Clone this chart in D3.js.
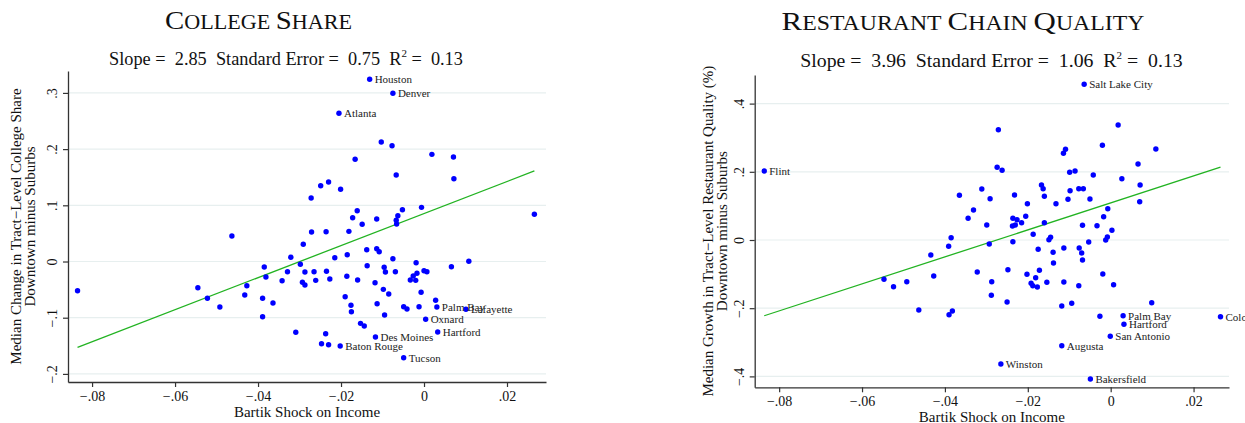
<!DOCTYPE html>
<html><head><meta charset="utf-8">
<script src="https://cdn.jsdelivr.net/npm/d3@7"></script>
<style>
html,body{margin:0;padding:0;background:#fff;}
text{font-family:"Liberation Serif","Times New Roman",serif;}
</style></head>
<body><svg id="chart" width="1245" height="423"></svg>
<script>
// ---------- DATA ----------
const xTickValues = [-0.08, -0.06, -0.04, -0.02, 0, 0.02];
const xTickLabels = ["\u2212.08", "\u2212.06", "\u2212.04", "\u2212.02", "0", ".02"];
const collegeYTickValues = [-0.2, -0.1, 0, 0.1, 0.2, 0.3];
const collegeYTickLabels = ["\u2212.2", "\u2212.1", "0", ".1", ".2", ".3"];
const restYTickValues = [-0.4, -0.2, 0, 0.2, 0.4];
const restYTickLabels = ["\u2212.4", "\u2212.2", "0", ".2", ".4"];

const collegeX = [-0.0103,-0.0077,0.0019,0.0071,-0.0166,-0.0067,0.0072,-0.0230,-0.0249,-0.0201,
 -0.0272,-0.0006,-0.0052,-0.0161,-0.0063,-0.0172,-0.0114,-0.0067,-0.0149,-0.0066,
 -0.0463,-0.0271,-0.0236,-0.0181,-0.0291,-0.0321,-0.0215,-0.0185,-0.0138,-0.0114,
 -0.0108,-0.0075,-0.0019,0.0066,0.0108,-0.0298,-0.0385,-0.0381,-0.0329,-0.0287,
 -0.0265,-0.0235,-0.0137,-0.0096,-0.0093,-0.0069,-0.0017,-0.0026,0.0000,0.0007,
 -0.0033,-0.0020,-0.0342,-0.0293,-0.0287,-0.0261,-0.0227,-0.0186,-0.0160,-0.0118,
 -0.0098,-0.0085,-0.0007,-0.0427,-0.0545,-0.0522,-0.0432,-0.0492,-0.0389,-0.0364,
 -0.0389,-0.0190,-0.0176,-0.0175,-0.0113,-0.0095,-0.0049,-0.0041,-0.0012,0.0028,
 0.0031,0.0101,0.0004,-0.0153,-0.0144,0.0033,-0.0117,-0.0202,-0.0049,-0.0309,
 -0.0237,-0.0247,-0.0230,-0.0835,-0.0131,-0.0075,-0.0205,0.0266];
const collegeY = [0.2126,0.2060,0.1907,0.1859,0.1819,0.1539,0.1473,0.1415,0.1349,0.1285,
 0.1130,0.0964,0.0922,0.0904,0.0815,0.0779,0.0756,0.0733,0.0662,0.0667,
 0.0454,0.0525,0.0530,0.0537,0.0306,0.0075,0.0068,0.0121,0.0210,0.0228,
 0.0174,0.0050,-0.0021,-0.0093,0.0004,-0.0050,-0.0098,-0.0276,-0.0181,-0.0187,
 -0.0181,-0.0174,-0.0075,-0.0103,-0.0187,-0.0181,-0.0210,-0.0258,-0.0164,-0.0181,
 -0.0329,-0.0335,-0.0342,-0.0370,-0.0418,-0.0335,-0.0311,-0.0263,-0.0329,-0.0377,
 -0.0495,-0.0578,-0.0548,-0.0431,-0.0466,-0.0655,-0.0596,-0.0810,-0.0655,-0.0738,
 -0.0982,-0.0626,-0.0779,-0.0893,-0.0751,-0.0952,-0.0804,-0.0845,-0.0804,-0.0690,
 -0.0810,-0.0850,-0.1028,-0.1100,-0.1148,-0.1254,-0.1343,-0.1504,-0.1712,-0.1260,
 -0.1285,-0.1463,-0.1480,-0.0520,0.3242,0.2993,0.2637,0.0840];
const collegeNames = {80:"Palm Bay",81:"Lafayette",82:"Oxnard",85:"Hartford",86:"Des Moines",
 87:"Baton Rouge",88:"Tucson",94:"Houston",95:"Denver",96:"Atlanta"};
const collegeFit = {slope: 2.85, intercept: 0.0853};

const restX = [-0.0271,0.0018,-0.0020,-0.0109,-0.0114,0.0066,-0.0274,-0.0262,-0.0099,-0.0086,
 -0.0042,0.0027,0.0071,-0.0167,-0.0163,-0.0311,-0.0077,-0.0066,-0.0098,-0.0365,
 -0.0232,-0.0160,-0.0291,-0.0103,-0.0050,-0.0201,-0.0132,0.0070,-0.0007,-0.0331,
 -0.0344,-0.0236,-0.0226,-0.0205,-0.0215,-0.0237,-0.0230,-0.0160,-0.0017,-0.0299,
 -0.0068,-0.0033,0.0003,-0.0385,-0.0187,-0.0145,-0.0149,-0.0008,-0.0012,-0.0391,
 -0.0293,-0.0236,-0.0053,-0.0175,-0.0113,-0.0076,-0.0139,-0.0070,-0.0434,-0.0068,
 -0.0138,-0.0248,-0.0172,-0.0322,-0.0427,-0.0202,-0.0181,-0.0019,-0.0547,-0.0492,
 -0.0287,-0.0192,-0.0188,-0.0177,-0.0154,-0.0113,-0.0077,0.0007,-0.0524,-0.0288,
 -0.0250,-0.0118,-0.0094,-0.0463,-0.0382,-0.0390,-0.0026,0.0030,0.0032,0.0099,
 0.0109,0.0265,-0.0001,-0.0118,-0.0265,-0.0049,-0.0064,-0.0836];
const restY = [0.3235,0.3372,0.2777,0.2660,0.2543,0.2229,0.2132,0.2044,0.1985,0.2023,
 0.1906,0.1798,0.1613,0.1613,0.1504,0.1496,0.1504,0.1504,0.1446,0.1311,
 0.1320,0.1282,0.1211,0.1194,0.1202,0.1065,0.1065,0.1123,0.0918,0.0880,
 0.0636,0.0636,0.0595,0.0695,0.0507,0.0411,0.0440,0.0507,0.0683,0.0440,
 0.0431,0.0419,0.0284,0.0067,0.0167,0.0079,0.0009,0.0088,0.0000,-0.0185,
 -0.0117,-0.0050,-0.0059,-0.0273,-0.0235,-0.0235,-0.0361,-0.0381,-0.0440,-0.0587,
 -0.0674,-0.0871,-0.0889,-0.0938,-0.1056,-0.1006,-0.1106,-0.0997,-0.1152,-0.1223,
 -0.1223,-0.1270,-0.1340,-0.1378,-0.1240,-0.1232,-0.1340,-0.1311,-0.1370,-0.1622,
 -0.1818,-0.1935,-0.1856,-0.2053,-0.2082,-0.2191,-0.2238,-0.2220,-0.2472,-0.1839,
 0.2669,-0.2249,-0.2824,-0.3100,-0.3636,-0.4076,0.4566,0.2023];
const restNames = {87:"Palm Bay",88:"Hartford",91:"Colorado Springs",92:"San Antonio",93:"Augusta",
 94:"Winston",95:"Bakersfield",96:"Salt Lake City",97:"Flint"};
const restFit = {slope: 3.96, intercept: 0.1089};

// ---------- LAYOUT ----------
const svg = d3.select("#chart");
const FONT = '"Liberation Serif","Times New Roman",serif';

const panels = [
 {x: collegeX, y: collegeY, names: collegeNames, fit: collegeFit,
  yTicks: collegeYTickValues, yLabels: collegeYTickLabels,
  plot: {x0: 68, x1: 546, y0: 71, y1: 382},
  xDomain: [-0.0858, 0.0294], yDomain: [-0.2144, 0.339],
  title: "College Share", titleCx: 258.5, titleW: 187, titleY: 29,
  sub: ["2.85", "0.75", "0.13"], subCx: 286, subY: 65, subSize: 18.3,
  yTitle: ["Median Change in Tract\u2212Level College Share", "Downtown minus Suburbs"],
  yTitleX: [21, 35], xTitleY: 417},
 {x: restX, y: restY, names: restNames, fit: restFit,
  yTicks: restYTickValues, yLabels: restYTickLabels,
  plot: {x0: 754.7, x1: 1229, y0: 75, y1: 387.3},
  xDomain: [-0.0859, 0.02855], yDomain: [-0.432, 0.4839],
  title: "Restaurant Chain Quality", titleCx: 963, titleW: 363, titleY: 29.5,
  sub: ["3.96", "1.06", "0.13"], subCx: 991.5, subY: 67, subSize: 19.8,
  yTitle: ["Median Growth in Tract\u2212Level Restaurant Quality (%)", "Downtown minus Suburbs"],
  yTitleX: [713, 727], xTitleY: 421.5}
];

panels.forEach(p => {
  const g = svg.append("g");
  const xs = d3.scaleLinear().domain(p.xDomain).range([p.plot.x0, p.plot.x1]);
  const ys = d3.scaleLinear().domain(p.yDomain).range([p.plot.y1, p.plot.y0]);

  // gridlines
  g.selectAll("line.grid").data(p.yTicks).join("line")
    .attr("x1", p.plot.x0).attr("x2", p.plot.x1)
    .attr("y1", d => ys(d)).attr("y2", d => ys(d))
    .attr("stroke", "#e7efef").attr("stroke-width", 1.2);

  // axes
  const xa = g.append("g").attr("transform", `translate(0,${p.plot.y1})`)
    .call(d3.axisBottom(xs).tickValues(xTickValues).tickFormat((d,i) => xTickLabels[i])
      .tickSize(5).tickSizeOuter(0).tickPadding(4));
  const ya = g.append("g").attr("transform", `translate(${p.plot.x0},0)`)
    .call(d3.axisLeft(ys).tickValues(p.yTicks).tickFormat((d,i) => p.yLabels[i])
      .tickSize(5).tickSizeOuter(0));
  [xa, ya].forEach(a => {
    a.select(".domain").attr("stroke", "#333").attr("stroke-width", 1.3);
    a.selectAll(".tick line").attr("stroke", "#333").attr("stroke-width", 1.2);
    a.selectAll("text").attr("font-family", FONT).attr("font-size", 14).attr("fill", "#111");
  });
  ya.selectAll(".tick text")
    .attr("x", null).attr("dy", null)
    .attr("text-anchor", "middle")
    .attr("transform", "translate(-11,0) rotate(-90)");

  // fit line
  const xmin = d3.min(p.x), xmax = d3.max(p.x);
  g.append("line")
    .attr("x1", xs(xmin)).attr("y1", ys(p.fit.intercept + p.fit.slope * xmin))
    .attr("x2", xs(xmax)).attr("y2", ys(p.fit.intercept + p.fit.slope * xmax))
    .attr("stroke", "#22b322").attr("stroke-width", 1.3);

  // points
  g.selectAll("circle.pt").data(p.x.map((v,i) => [v, p.y[i], i])).join("circle")
    .attr("cx", d => xs(d[0])).attr("cy", d => ys(d[1])).attr("r", 2.7)
    .attr("fill", "#0000ff");

  // labels
  Object.entries(p.names).forEach(([i, name]) => {
    g.append("text").attr("x", xs(p.x[+i]) + 5).attr("y", ys(p.y[+i])).attr("dy", "0.35em")
      .attr("font-size", 11).attr("fill", "#222").text(name);
  });

  // title (small caps)
  const t = g.append("text").attr("text-anchor", "middle").attr("fill", "#111");
  p.title.split(" ").forEach((w, wi) => {
    if (wi > 0) t.append("tspan").attr("font-size", 20).text("\u00a0");
    t.append("tspan").attr("font-size", 26).text(w[0].toUpperCase());
    t.append("tspan").attr("font-size", 20).text(w.slice(1).toUpperCase());
  });
  const tw = t.node().getComputedTextLength();
  t.attr("transform", `translate(${p.titleCx},${p.titleY}) scale(${p.titleW / tw},1)`);

  // subtitle
  const s = g.append("text").attr("text-anchor", "middle").attr("fill", "#111")
    .attr("font-size", p.subSize).attr("x", p.subCx).attr("y", p.subY).style("white-space", "pre");
  s.append("tspan").text(`Slope =  ${p.sub[0]}  Standard Error =  ${p.sub[1]}  R`);
  s.append("tspan").attr("font-size", 11).attr("dy", -8).text("2");
  s.append("tspan").attr("dy", 8).text(` =  ${p.sub[2]}`);

  // y title
  const cy = (p.plot.y0 + p.plot.y1) / 2;
  p.yTitle.forEach((line, li) => {
    g.append("text").attr("text-anchor", "middle").attr("font-size", 15).attr("fill", "#111")
      .attr("transform", `translate(${p.yTitleX[li]},${cy}) rotate(-90)`).text(line);
  });
  // x title
  g.append("text").attr("text-anchor", "middle").attr("font-size", 15).attr("fill", "#111")
    .attr("x", (p.plot.x0 + p.plot.x1) / 2).attr("y", p.xTitleY).text("Bartik Shock on Income");
});
</script></body></html>
